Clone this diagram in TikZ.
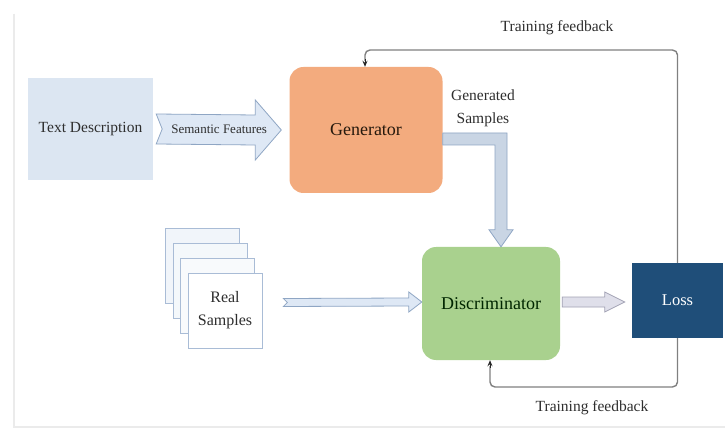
\documentclass[tikz,border=0pt]{standalone}
\usepackage{fontspec}
\setmainfont{LiberationSerif}[Extension=.ttf, UprightFont=*-Regular, BoldFont=*-Bold, ItalicFont=*-Italic, BoldItalicFont=*-BoldItalic]
\usetikzlibrary{arrows.meta,calc}
\definecolor{tdfill}{HTML}{DCE6F2}
\definecolor{genfill}{HTML}{F3AB7E}
\definecolor{discfill}{HTML}{A9D18E}
\definecolor{lossfill}{HTML}{1F4E79}
\definecolor{arrfill}{HTML}{DEE8F5}
\definecolor{arrdraw}{HTML}{8FA6C4}
\definecolor{bentfill}{HTML}{C9D5E4}
\definecolor{dlfill}{HTML}{DFDFEA}
\definecolor{dldraw}{HTML}{A2A2B4}
\definecolor{fbline}{HTML}{808080}
\definecolor{txt}{HTML}{2E2E2E}
\definecolor{pagedraw}{HTML}{A9BCD6}
\tikzset{
  box/.style={draw=none, inner sep=0pt, text=txt},
  rbox/.style={box, rounded corners=14pt},
  page/.style={draw=pagedraw, line width=0.8pt, fill=white, minimum width=74pt, minimum height=75pt, inner sep=0pt},
  fatarrow/.style={fill=arrfill, draw=arrdraw, line width=0.8pt, line join=miter},
  fbk/.style={draw=fbline, line width=1.4pt, rounded corners=5pt},
  lbl/.style={text=txt, inner sep=0pt}
}
\begin{document}
\begin{tikzpicture}[x=1pt,y=-1pt]
\useasboundingbox (0,0) rectangle (725,430);
\fill[white] (0,0) rectangle (725,430);
% faint frame
\draw[black!8, line width=1.2pt] (14,14) -- (14,427) -- (725,427);

% nodes
\node[box, fill=tdfill, minimum width=125pt, minimum height=102pt, font=\fontsize{15.5}{18}\selectfont] (td) at (90.5,129) {Text Description};
\node[rbox, fill=genfill, minimum width=153pt, minimum height=126pt, text=black!80!brown, font=\fontsize{18}{21}\selectfont] (gen) at (366,130) {Generator};
\node[rbox, fill=discfill, minimum width=138pt, minimum height=113pt, text=black!85!green, font=\fontsize{18}{21}\selectfont] (disc) at (491,303.5) {Discriminator};
\node[box, fill=lossfill, minimum width=91pt, minimum height=75pt, text=white, font=\fontsize{16.5}{19}\selectfont] (loss) at (677.5,300.5) {Loss};

% real samples pages
\node[page, fill=tdfill!40] (p1) at (202.5,265.5) {};
\node[page, fill=tdfill!30] (p2) at (210,280.5) {};
\node[page, fill=tdfill!20] (p3) at (217.5,295.5) {};
\node[page, align=center, text=txt, font=\fontsize{16}{23}\selectfont] (rs) at (225,310.5) {Real\\Samples};

% semantic features arrow
\coordinate (sa0) at ($(td.east)+(3,0)$);
\coordinate (sa1) at ($(gen.west)+(-8,0)$);
\draw[fatarrow] ($(sa0)+(0,-15)$) -- ($(sa1)+(-26,-15)$) -- ($(sa1)+(-26,-30)$) -- (sa1)
  -- ($(sa1)+(-26,30)$) -- ($(sa1)+(-26,15)$) -- ($(sa0)+(0,15)$) -- ($(sa0)+(6,0)$) -- cycle;
\node[lbl, font=\fontsize{13}{15}\selectfont] (sf) at ($(sa0)+(63,0)$) {Semantic Features};

% real samples -> discriminator arrow
\coordinate (ra0) at ($(rs.east)+(21,-8)$);
\coordinate (ra1) at ($(disc.west)+(0,-1.5)$);
\draw[fatarrow] ($(ra0)+(0,-4)$) -- ($(ra1)+(-13,-4)$) -- ($(ra1)+(-13,-10)$) -- (ra1)
  -- ($(ra1)+(-13,10)$) -- ($(ra1)+(-13,4)$) -- ($(ra0)+(0,4)$) -- ($(ra0)+(4,0)$) -- cycle;

% discriminator -> loss arrow
\coordinate (da0) at ($(disc.east)+(2,-1.5)$);
\coordinate (da1) at ($(loss.west)+(-7,1.5)$);
\draw[fatarrow, fill=dlfill, draw=dldraw] ($(da0)+(0,-5)$) -- ($(da1)+(-20,-5)$) -- ($(da1)+(-20,-10)$) -- (da1)
  -- ($(da1)+(-20,10)$) -- ($(da1)+(-20,5)$) -- ($(da0)+(0,5)$) -- cycle;

% generated samples bent arrow
\coordinate (ga0) at ($(gen.east)+(0,9)$);
\coordinate (ga1) at ($(disc.north)+(10,0)$);
\draw[fatarrow, fill=bentfill] ($(ga0)+(0,-6)$) -- ($(ga1 |- ga0)+(6,-6)$) -- ($(ga1)+(6,-17)$) -- ($(ga1)+(12,-17)$) -- (ga1)
  -- ($(ga1)+(-12,-17)$) -- ($(ga1)+(-6,-17)$) -- ($(ga1 |- ga0)+(-6,6)$) -- ($(ga0)+(0,6)$) -- cycle;
\node[lbl, align=center, font=\fontsize{15.5}{23}\selectfont] (gs) at (483,108) {Generated\\Samples};

% training feedback lines
\coordinate (ft) at (365,50);
\coordinate (fb) at (490,387);
\draw[fbk] (loss.north) |- (ft) -- ($(ft |- gen.north)+(0,-6)$);
\draw[-{Stealth[length=6pt,width=5pt]}, black!85, line width=1pt] ($(ft |- gen.north)+(0,-8)$) -- (ft |- gen.north);
\draw[fbk] (loss.south) |- (fb) -- ($(fb |- disc.south)+(0,6)$);
\draw[-{Stealth[length=6pt,width=5pt]}, black!85, line width=1pt] ($(fb |- disc.south)+(0,8)$) -- (fb |- disc.south);
\node[lbl, font=\fontsize{15.5}{18}\selectfont] (tf1) at (557,28) {Training feedback};
\node[lbl, font=\fontsize{15.5}{18}\selectfont] (tf2) at (592,408) {Training feedback};
\end{tikzpicture}
\end{document}
